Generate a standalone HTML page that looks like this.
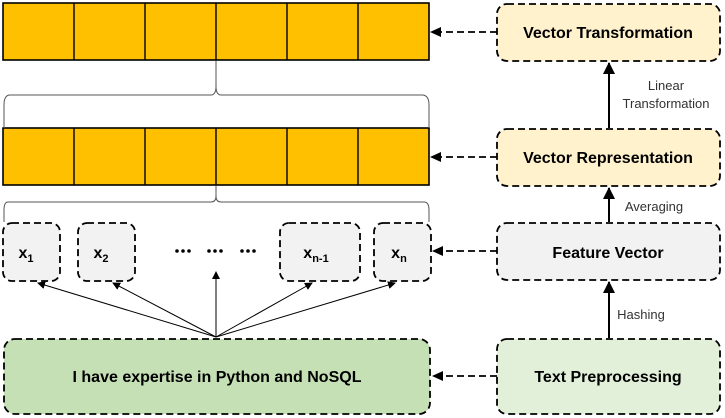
<!DOCTYPE html>
<html><head><style>body{margin:0;background:#fff}svg{display:block}text{font-family:"Liberation Sans",sans-serif}</style></head>
<body>
<svg width="725" height="418" viewBox="0 0 725 418" xmlns="http://www.w3.org/2000/svg">
<defs>
<marker id="a" markerWidth="8" markerHeight="8" refX="7" refY="4" orient="auto" markerUnits="userSpaceOnUse"><path d="M0,0L8,4L0,8z" fill="#000"/></marker>
<marker id="b" markerWidth="12" markerHeight="12" refX="11" refY="6" orient="auto" markerUnits="userSpaceOnUse"><path d="M0,0L12,6L0,12z" fill="#000"/></marker>
</defs>
<g stroke="#000" stroke-width="1.6" fill="#FFC000">
<rect x="3" y="3" width="426" height="57"/>
<rect x="3" y="128" width="426" height="57"/>
</g>
<g stroke="#000" stroke-width="1.4">
<line x1="74" y1="3" x2="74" y2="60"/><line x1="145" y1="3" x2="145" y2="60"/><line x1="216" y1="3" x2="216" y2="60"/><line x1="287" y1="3" x2="287" y2="60"/><line x1="358" y1="3" x2="358" y2="60"/>
<line x1="74" y1="128" x2="74" y2="185"/><line x1="145" y1="128" x2="145" y2="185"/><line x1="216" y1="128" x2="216" y2="185"/><line x1="287" y1="128" x2="287" y2="185"/><line x1="358" y1="128" x2="358" y2="185"/>
</g>
<g fill="none" stroke="#555" stroke-width="1">
<path d="M216,61 L216,86 Q216,95 211,95 L10,95 Q4,95 4,105 L4,128"/>
<path d="M216,86 Q216,95 221,95 L422,95 Q429,95 429,105 L429,128"/>
<path d="M216,186 L216,196 Q216,202 211,202 L8,202 Q4,202 4,210 L4,222"/>
<path d="M216,196 Q216,202 221,202 L424,202 Q429,202 429,210 L429,222"/>
</g>
<g stroke="#000" stroke-width="1.8" stroke-dasharray="7,4">
<rect x="3" y="223" width="57" height="58" rx="9" fill="#F2F2F2"/>
<rect x="78" y="223" width="57" height="58" rx="9" fill="#F2F2F2"/>
<rect x="280" y="223" width="80" height="58" rx="9" fill="#F2F2F2"/>
<rect x="374" y="223" width="57" height="58" rx="9" fill="#F2F2F2"/>
<rect x="4" y="339" width="426" height="75" rx="11" fill="#C5E0B4"/>
<rect x="497" y="4" width="223" height="57" rx="10" fill="#FFF2CC"/>
<rect x="497" y="129" width="223" height="57" rx="10" fill="#FFF2CC"/>
<rect x="497" y="223" width="223" height="57" rx="10" fill="#F2F2F2"/>
<rect x="497" y="339" width="223" height="75" rx="10" fill="#E2F0D9"/>
</g>
<g stroke="#000" stroke-width="1.8" stroke-dasharray="7,4" fill="none">
<line x1="497" y1="32" x2="440" y2="32"/><line x1="497" y1="157" x2="440" y2="157"/><line x1="497" y1="251" x2="440" y2="251"/><line x1="497" y1="376" x2="440" y2="376"/>
</g>
<g fill="#000"><path d="M430,32L441,27L441,37z"/><path d="M430,157L441,152L441,162z"/><path d="M432,251L443,246L443,256z"/><path d="M432,376L443,371L443,381z"/></g>
<g stroke="#000" stroke-width="1">
<line x1="216" y1="337" x2="38" y2="283" marker-end="url(#a)"/>
<line x1="216" y1="337" x2="113" y2="283" marker-end="url(#a)"/>
<line x1="216" y1="337" x2="216" y2="272" marker-end="url(#a)"/>
<line x1="216" y1="337" x2="312" y2="283" marker-end="url(#a)"/>
<line x1="216" y1="337" x2="395" y2="283" marker-end="url(#a)"/>
</g>
<g stroke="#000" stroke-width="2">
<line x1="609" y1="128" x2="609" y2="63" marker-end="url(#b)"/>
<line x1="609" y1="222" x2="609" y2="188" marker-end="url(#b)"/>
<line x1="609" y1="338" x2="609" y2="282" marker-end="url(#b)"/>
</g>
<g fill="#000">
<circle cx="177" cy="251" r="1.8"/><circle cx="183" cy="251" r="1.8"/><circle cx="189" cy="251" r="1.8"/>
<circle cx="209" cy="251" r="1.8"/><circle cx="215" cy="251" r="1.8"/><circle cx="221" cy="251" r="1.8"/>
<circle cx="242" cy="251" r="1.8"/><circle cx="248" cy="251" r="1.8"/><circle cx="254" cy="251" r="1.8"/>
</g>
<g font-weight="bold" fill="#000" text-anchor="middle">
<text x="26" y="258" font-size="16">x<tspan font-size="11" dy="4">1</tspan></text>
<text x="101" y="258" font-size="16">x<tspan font-size="11" dy="4">2</tspan></text>
<text x="316" y="258" font-size="16">x<tspan font-size="11" dy="4">n-1</tspan></text>
<text x="399" y="258" font-size="16">x<tspan font-size="11" dy="4">n</tspan></text>
<text x="217" y="382" font-size="16">I have expertise in Python and NoSQL</text>
<text x="608" y="38" font-size="16">Vector Transformation</text>
<text x="608" y="163" font-size="16">Vector Representation</text>
<text x="608" y="258" font-size="16">Feature Vector</text>
<text x="608" y="382" font-size="16">Text Preprocessing</text>
</g>
<g font-size="13" fill="#333" text-anchor="middle">
<text x="666" y="90">Linear</text>
<text x="666" y="108">Transformation</text>
<text x="654" y="211">Averaging</text>
<text x="641" y="319">Hashing</text>
</g>
</svg>
</body></html>
